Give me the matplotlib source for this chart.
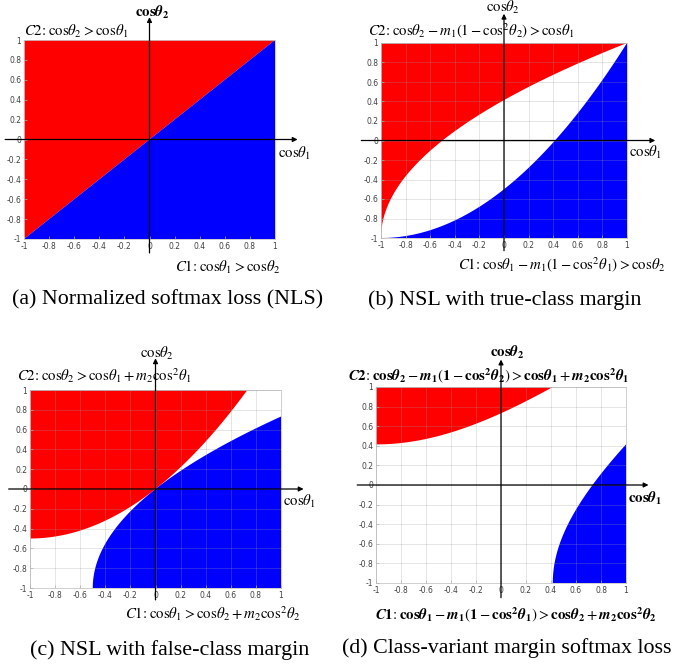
import numpy as np
import matplotlib.pyplot as plt

plt.rcParams['mathtext.fontset'] = 'stix'

W, H = 673, 666

# margins (b): x=0 -> y=-0.5, (c): x=-1 -> y=-0.5
m1 = 0.5
m2 = 0.5
# (d) as drawn: the false-class side is shifted by another 0.5
d_shift = 0.5

tick_vals = [-1, -0.8, -0.6, -0.4, -0.2, 0, 0.2, 0.4, 0.6, 0.8, 1]
tick_labels = ['-1', '-0.8', '-0.6', '-0.4', '-0.2', '0', '0.2', '0.4', '0.6', '0.8', '1']

captions = [
    '(a) Normalized softmax loss (NLS)',
    '(b) NSL with true-class margin',
    '(c) NSL with false-class margin',
    '(d) Class-variant margin softmax loss',
]
c2_labels = [
    r'$C2\!:\mathrm{cos}\theta_2 > \mathrm{cos}\theta_1$',
    r'$C2\!:\mathrm{cos}\theta_2 - m_1(1-\mathrm{cos}^2\theta_2) > \mathrm{cos}\theta_1$',
    r'$C2\!:\mathrm{cos}\theta_2 > \mathrm{cos}\theta_1 + m_2\mathrm{cos}^2\theta_1$',
    r'$\boldsymbol{C}\mathbf{2}\!:\mathbf{cos}\boldsymbol{\theta}_\mathbf{2} - \boldsymbol{m}_\mathbf{1}(\mathbf{1}-\mathbf{cos}^\mathbf{2}\boldsymbol{\theta}_\mathbf{2}) > \mathbf{cos}\boldsymbol{\theta}_\mathbf{1} + \boldsymbol{m}_\mathbf{2}\mathbf{cos}^\mathbf{2}\boldsymbol{\theta}_\mathbf{1}$',
]
c1_labels = [
    r'$C1\!:\mathrm{cos}\theta_1 > \mathrm{cos}\theta_2$',
    r'$C1\!:\mathrm{cos}\theta_1 - m_1(1-\mathrm{cos}^2\theta_1) > \mathrm{cos}\theta_2$',
    r'$C1\!:\mathrm{cos}\theta_1 > \mathrm{cos}\theta_2 + m_2\mathrm{cos}^2\theta_2$',
    r'$\boldsymbol{C}\mathbf{1}\!:\mathbf{cos}\boldsymbol{\theta}_\mathbf{1} - \boldsymbol{m}_\mathbf{1}(\mathbf{1}-\mathbf{cos}^\mathbf{2}\boldsymbol{\theta}_\mathbf{1}) > \mathbf{cos}\boldsymbol{\theta}_\mathbf{2} + \boldsymbol{m}_\mathbf{2}\mathbf{cos}^\mathbf{2}\boldsymbol{\theta}_\mathbf{2}$',
]
y_axis_bold = [True, False, False, True]
x_axis_bold = [False, False, False, True]
with_grid = [False, True, True, True]

# layout, in reference pixels: axes box (left, top, right, bottom)
boxes = [(24, 40, 275, 239), (381, 43, 627, 238), (30, 390, 281, 588), (376, 387, 626, 583)]
# arrow extents in data units: (x left, x right, y bottom, y top)
arrows = [(-1.15, 1.18, -1.14, 1.23), (-1.16, 1.23, -1.13, 1.30),
          (-1.17, 1.18, -1.12, 1.32), (-1.15, 1.18, -1.15, 1.28)]
# text anchors: cos2 label (centre), C2 (left), cos1 (left), C1 (left), caption (centre)
ytxt = [(152, 12), (503, 7), (157, 353), (507, 352)]
c2pos = [(24, 31), (368, 31), (17, 376), (348, 376)]
xtxt = [(278, 153), (629, 152), (283, 501), (628, 498)]
c1pos = [(175, 267), (458, 265), (125, 614), (375, 615)]
cappos = [(168, 300), (505, 300), (170, 650), (507, 648)]

g = np.linspace(-1, 1, 1201)
X, Y = np.meshgrid(g, g)
regions = [
    (Y - X, X - Y),
    (Y - m1 * (1 - Y**2) - X, X - m1 * (1 - X**2) - Y),
    (Y - (X + m2 * X**2), X - (Y + m2 * Y**2)),
    (Y - m1 * (1 - Y**2) - (X + m2 * X**2 + d_shift),
     X - m1 * (1 - X**2) - (Y + m2 * Y**2 + d_shift)),
]

fig = plt.figure(figsize=(W / 100, H / 100), dpi=100)


def fx(px):
    return px / W


def fy(py):
    return 1 - py / H


def cos_label(i, bold):
    if bold:
        return r'$\mathbf{cos}\boldsymbol{\theta}_\mathbf{%d}$' % i
    return r'$\mathrm{cos}\theta_%d$' % i


for k in range(4):
    l, t, r, b = boxes[k]
    ax = fig.add_axes([fx(l), fy(b), (r - l) / W, (b - t) / H])
    red, blue = regions[k]
    ax.contourf(X, Y, red, levels=[0, 10], colors=['#ff0000'], antialiased=True)
    ax.contourf(X, Y, blue, levels=[0, 10], colors=['#0000ff'], antialiased=True)
    ax.set_xlim(-1, 1)
    ax.set_ylim(-1, 1)
    ax.set_xticks(tick_vals)
    ax.set_yticks(tick_vals)
    ax.set_xticklabels(tick_labels)
    ax.set_yticklabels(tick_labels)
    ax.tick_params(direction='in', length=2, width=0.5, color='#b0b0b0',
                   labelsize=5.5, labelcolor='#404040', pad=2)
    for s in ax.spines.values():
        s.set_color('#c8c8c8')
        s.set_linewidth(0.6)
    if with_grid[k]:
        ax.set_axisbelow(False)
        ax.grid(True, color='#9a9a9a', alpha=0.3, lw=0.6)

    x0, x1, y0, y1 = arrows[k]
    arr = dict(arrowstyle='-|>', color='k', lw=0.9, mutation_scale=7, shrinkA=0, shrinkB=0)
    ax.annotate('', xy=(0, y1), xytext=(0, y0), arrowprops=arr, annotation_clip=False)
    ax.annotate('', xy=(x1, 0), xytext=(x0, 0), arrowprops=arr, annotation_clip=False)

    fig.text(fx(ytxt[k][0]), fy(ytxt[k][1]), cos_label(2, y_axis_bold[k]),
             ha='center', va='center', fontsize=10.7)
    fig.text(fx(xtxt[k][0]), fy(xtxt[k][1]), cos_label(1, x_axis_bold[k]),
             ha='left', va='center', fontsize=10.7)
    fig.text(fx(c2pos[k][0]), fy(c2pos[k][1]), c2_labels[k], ha='left', va='center', fontsize=10.7)
    fig.text(fx(c1pos[k][0]), fy(c1pos[k][1]), c1_labels[k], ha='left', va='center', fontsize=10.7)
    fig.text(fx(cappos[k][0]), fy(cappos[k][1]), captions[k], ha='center', va='center',
             fontsize=15.8, family='Liberation Serif')

fig.savefig('out.png', dpi=100)
